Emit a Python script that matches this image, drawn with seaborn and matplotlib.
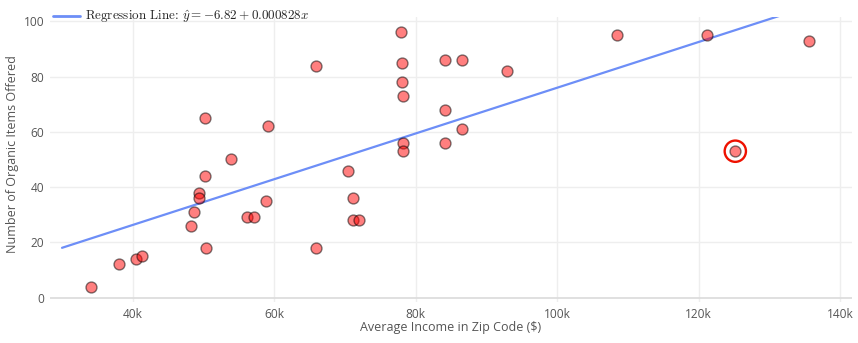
import matplotlib
matplotlib.use("Agg")
import matplotlib.pyplot as plt
import seaborn as sns
import pandas as pd
from matplotlib.ticker import FuncFormatter

# ---- data ----
income = [34100, 38000, 40400, 41300, 48200, 48600, 49300, 49300, 50200, 50300,
          50200, 53900, 56200, 57100, 58900, 59100, 65900, 65900, 70500, 71100,
          71100, 72000, 77900, 78100, 78100, 78200, 78200, 78200, 84200, 84200,
          84200, 86500, 86500, 92900, 108500, 121200, 125200, 135600]
organic = [4, 12, 14, 15, 26, 31, 38, 36, 44, 18,
           65, 50, 29, 29, 35, 62, 84, 18, 46, 36,
           28, 28, 96, 85, 78, 73, 56, 53, 86, 68,
           56, 86, 61, 82, 95, 95, 53, 93]
intercept = -6.82
slope = 0.000828
line_x = [30000, 140000]
highlight_x = [125200]
highlight_y = [53]
x_ticks = [40000, 60000, 80000, 100000, 120000, 140000]
y_ticks = [0, 20, 40, 60, 80, 100]

df = pd.DataFrame({"income": income, "organic": organic})
line_df = pd.DataFrame({"x": line_x, "y": [intercept + slope * v for v in line_x]})
hl_df = pd.DataFrame({"x": highlight_x, "y": highlight_y})

sns.set_theme(style="white")
plt.rcParams["font.family"] = ["Open Sans", "DejaVu Sans"]
plt.rcParams["mathtext.fontset"] = "cm"

fig = plt.figure(figsize=(8.58, 3.43), dpi=100)
ax = fig.add_axes([50 / 858, 1 - 302 / 343, (852 - 50) / 858, (302 - 17) / 343])

ax.set_xlim(28300, 141700)
ax.set_ylim(-1.6, 101.6)

for t in x_ticks:
    ax.axvline(t, color="#eeeeee", lw=1, zorder=0)
for t in y_ticks:
    ax.axhline(t, color="#dddddd" if t == 0 else "#eeeeee", lw=1.3 if t == 0 else 1, zorder=0)

sns.lineplot(data=line_df, x="x", y="y", ax=ax, color="#6d8ef7", lw=1.6,
             label=r"$\text{Regression Line:}\ \hat{y}=-6.82+0.000828x$", zorder=2)
sns.scatterplot(data=df, x="income", y="organic", ax=ax, color="red", alpha=0.5,
                edgecolor="black", linewidth=1.0, s=62, zorder=3)
sns.scatterplot(data=hl_df, x="x", y="y", ax=ax, facecolor="none", edgecolor="#ee1100",
                linewidth=1.7, s=235, zorder=4, legend=False)

ax.set_xticks(x_ticks)
ax.set_yticks(y_ticks)
ax.xaxis.set_major_formatter(FuncFormatter(lambda v, p: f"{int(v/1000)}k"))
ax.tick_params(axis="both", length=0, labelsize=8.6, labelcolor="#555555", pad=4)

for s in ax.spines.values():
    s.set_visible(False)

ax.set_xlabel("Average Income in Zip Code ($)", fontsize=9, color="#555555")
ax.set_ylabel("Number of Organic Items Offered", fontsize=9, color="#555555")
ax.xaxis.set_label_coords((451 - 50) / 802, (302 - 321) / 285)
ax.yaxis.set_label_coords((19 - 50) / 802, (302 - 154) / 285)

leg = ax.legend(loc="lower left", bbox_to_anchor=(0.0, 0.962), frameon=False,
                fontsize=9.4, handlelength=2.1, borderaxespad=0.2, handletextpad=0.35,
                borderpad=0)
for h in leg.get_lines():
    h.set_linewidth(2)

fig.savefig("out.png", dpi=100)
